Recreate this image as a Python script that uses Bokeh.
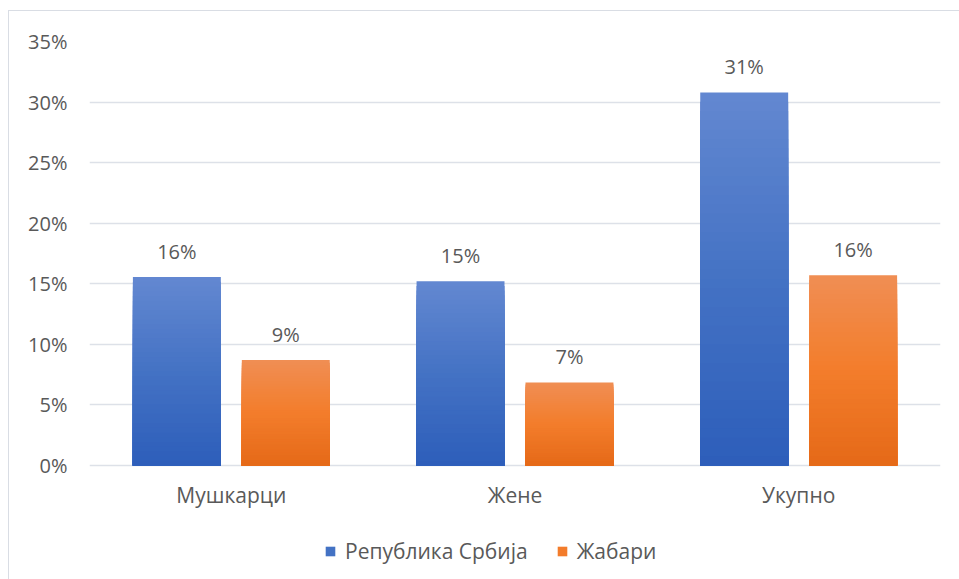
from bokeh.plotting import figure
from bokeh.models import ColumnDataSource, FactorRange, Legend, LegendItem, FixedTicker, Range1d
from bokeh.transform import dodge
from bokeh.core.properties import value
from bokeh.embed import file_html
from bokeh.resources import INLINE

# ---- data ----
categories = ["Мушкарци", "Жене", "Укупно"]
series_names = ["Република Србија", "Жабари"]
srbija = [15.55, 15.2, 30.8]
zabari = [8.7, 6.85, 15.7]
srbija_labels = ["16%", "15%", "31%"]
zabari_labels = ["9%", "7%", "16%"]
y_ticks = [0, 5, 10, 15, 20, 25, 30, 35]
y_tick_labels = ["0%", "5%", "10%", "15%", "20%", "25%", "30%", "35%"]

# ---- styles ----
FONT = "Open Sans"
FS = "20px"
FS_TEXT = "21px"
TXT = "#595959"
blue_stops = [(99, 136, 209), (68, 114, 196), (45, 94, 186)]     # top, mid, bottom
orange_stops = [(240, 142, 84), (243, 125, 43), (229, 105, 24)]
N = 40

W, H = 959, 579
TOP, LEFT, RIGHT = 41, 89, 19
ZERO_Y = 465  # pixel row of the 0% line
px_per_unit = (ZERO_Y - TOP) / y_ticks[-1]
y_start = -(H - ZERO_Y) / px_per_unit  # room below 0 for labels and legend


def grad(stops, t):
    # t: 0 at bottom, 1 at top
    top, mid, bot = stops
    if t < 0.5:
        a, b, u = bot, mid, t / 0.5
    else:
        a, b, u = mid, top, (t - 0.5) / 0.5
    c = [round(a[i] + (b[i] - a[i]) * u) for i in range(3)]
    return "#%02x%02x%02x" % tuple(c)


def slices(vals, stops):
    xs, tops, cols = [], [], []
    for k in range(N, 0, -1):
        for cat, v in zip(categories, vals):
            xs.append(cat)
            tops.append(v * k / N)
            cols.append(grad(stops, (k - 0.5) / N))
    return ColumnDataSource(dict(x=xs, top=tops, color=cols))


p = figure(x_range=FactorRange(*categories, range_padding=0),
           y_range=Range1d(y_start, y_ticks[-1]),
           width=W, height=H, output_backend="svg", toolbar_location=None,
           min_border_left=LEFT, min_border_right=RIGHT, min_border_top=TOP, min_border_bottom=0)
p.x_range.range_padding = 0
p.border_fill_alpha = 0
p.background_fill_alpha = 0
p.styles = {"background": "linear-gradient(#d9dde4,#d9dde4) 8px 10px / 1px 100% no-repeat, "
                          "linear-gradient(#d9dde4,#d9dde4) 8px 10px / 100% 1px no-repeat, #ffffff"}
p.outline_line_color = None

offset = 0.192
bw = 0.31

src_b = slices(srbija, blue_stops)
src_o = slices(zabari, orange_stops)
rb = p.vbar(x=dodge("x", -offset, range=p.x_range), top="top", bottom=0, width=bw,
            source=src_b, fill_color="color", line_color=None)
ro = p.vbar(x=dodge("x", offset, range=p.x_range), top="top", bottom=0, width=bw,
            source=src_o, fill_color="color", line_color=None)

lab_b = ColumnDataSource(dict(x=categories, y=srbija, t=srbija_labels))
lab_o = ColumnDataSource(dict(x=categories, y=zabari, t=zabari_labels))
for src, off in ((lab_b, -offset), (lab_o, offset)):
    p.text(x=dodge("x", off, range=p.x_range), y="y", text="t", source=src,
           text_align="center", text_baseline="alphabetic", y_offset=-26,
           text_font=value(FONT), text_font_size=FS, text_color=TXT)

# grid
p.xgrid.grid_line_color = None
p.ygrid.grid_line_color = "#dde1e8"
p.ygrid.grid_line_width = 1.5
p.yaxis.ticker = FixedTicker(ticks=y_ticks)
p.yaxis.major_label_overrides = {t: l for t, l in zip(y_ticks, y_tick_labels)}

for ax in (p.xaxis[0], p.yaxis[0]):
    ax.axis_line_color = None
    ax.major_tick_line_color = None
    ax.minor_tick_line_color = None
    ax.major_tick_out = 0
    ax.major_tick_in = 0
    ax.major_label_text_font = FONT
    ax.major_label_text_font_size = FS
    ax.major_label_text_color = TXT
p.xaxis.major_label_text_font_size = FS_TEXT
p.yaxis.major_label_standoff = 22
p.xaxis.major_label_standoff = 15
p.xaxis.fixed_location = 0

legend = Legend(items=[LegendItem(label=series_names[0], renderers=[rb], index=N // 2 * 3),
                       LegendItem(label=series_names[1], renderers=[ro], index=N // 2 * 3)],
                orientation="horizontal", location=(235, 14),
                glyph_width=12, glyph_height=12, label_standoff=9, spacing=28,
                padding=10, border_line_color=None, background_fill_alpha=0,
                label_text_font=FONT, label_text_font_size=FS_TEXT, label_text_color=TXT)
p.add_layout(legend, "center")

open("out.html", "w").write(file_html(p, INLINE))
